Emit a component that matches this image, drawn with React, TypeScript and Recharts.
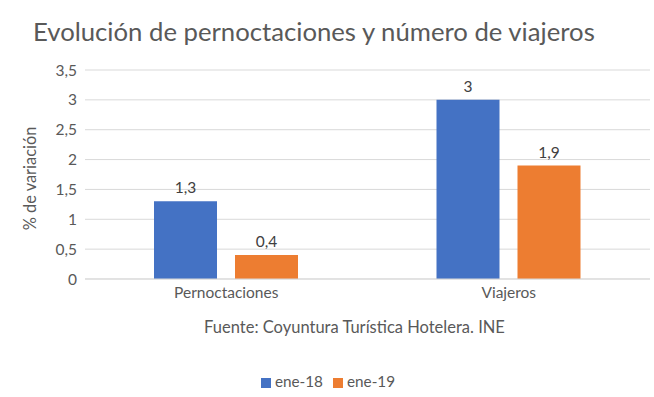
import React from 'react';
import {
    BarChart,
    Bar,
    XAxis,
    YAxis,
    CartesianGrid,
    Legend,
    LabelList
} from 'recharts';

const categories = ['Pernoctaciones', 'Viajeros'];
const ene18 = [1.3, 3];
const ene19 = [0.4, 1.9];
const yTicks = [0, 0.5, 1, 1.5, 2, 2.5, 3, 3.5];

const FONT = 'Lato, "Open Sans", sans-serif';
const TEXT = '#595959';

const comma = (v: any) => String(v).replace('.', ',');

export default function App() {
    const data = categories.map((name, i) => ({
        name,
        ene18: ene18[i],
        ene19: ene19[i]
    }));

    return (
        <div style={{ position: 'absolute', left: 0, top: 0, width: 654, height: 397, background: '#fff', fontFamily: FONT }}>
            <div style={{ position: 'absolute', left: 33, top: 14, fontSize: 25.7, color: TEXT, whiteSpace: 'nowrap', lineHeight: '34px' }}>
                Evolución de pernoctaciones y número de viajeros
            </div>
            <BarChart
                width={654}
                height={397}
                data={data}
                margin={{ top: 70, right: 4, left: 0, bottom: 69 }}
                barSize={63}
                barGap={18}
            >
                <CartesianGrid vertical={false} stroke="#d9d9d9" />
                <XAxis
                    dataKey="name"
                    axisLine={{ stroke: '#d9d9d9' }}
                    tickLine={false}
                    tick={{ fill: TEXT, fontSize: 15.5, fontFamily: FONT }}
                    label={{
                        value: 'Fuente: Coyuntura Turística Hotelera. INE',
                        position: 'bottom',
                        offset: 12,
                        dx: -13,
                        fill: TEXT,
                        fontSize: 16.5,
                        fontFamily: FONT
                    }}
                />
                <YAxis
                    width={85}
                    domain={[0, 3.5]}
                    ticks={yTicks}
                    axisLine={false}
                    tickLine={false}
                    tickFormatter={comma}
                    tick={{ fill: TEXT, fontSize: 15.5, fontFamily: FONT }}
                    label={{
                        value: '% de variación',
                        angle: -90,
                        position: 'insideLeft',
                        offset: 30,
                        dy: 4,
                        style: { textAnchor: 'middle' },
                        fill: TEXT,
                        fontSize: 16.4,
                        fontFamily: FONT
                    }}
                />
                <Legend
                    verticalAlign="bottom"
                    iconType="square"
                    iconSize={10}
                    formatter={(value: string) => <span style={{ color: TEXT, fontSize: 15.3 }}>{value}</span>}
                    wrapperStyle={{ top: 371, left: 6, width: 654, fontFamily: FONT }}
                />
                <Bar dataKey="ene18" name="ene-18" fill="#4472c4" isAnimationActive={false}>
                    <LabelList dataKey="ene18" position="top" offset={8} formatter={comma} fill="#404040" fontSize={15.5} fontFamily={FONT} />
                </Bar>
                <Bar dataKey="ene19" name="ene-19" fill="#ed7d31" isAnimationActive={false}>
                    <LabelList dataKey="ene19" position="top" offset={8} formatter={comma} fill="#404040" fontSize={15.5} fontFamily={FONT} />
                </Bar>
            </BarChart>
        </div>
    );
}
